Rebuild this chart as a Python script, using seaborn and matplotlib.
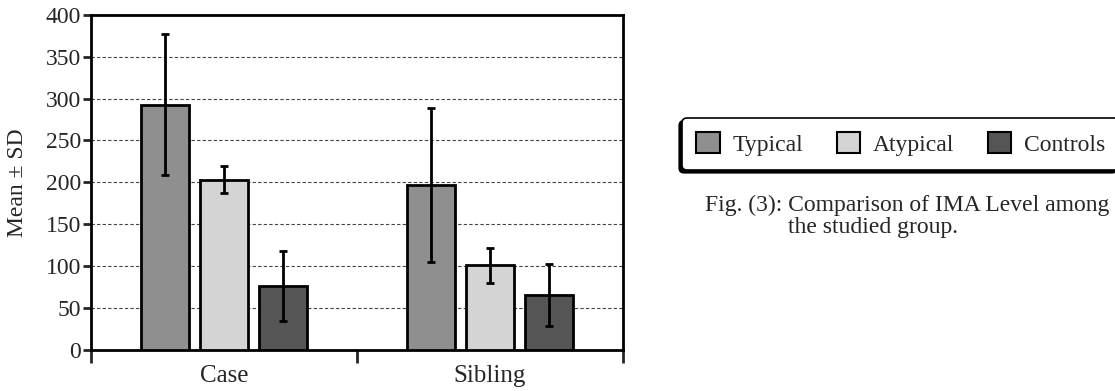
import pandas as pd
import matplotlib.pyplot as plt
import seaborn as sns

# IMA level, mean and SD per group
categories = ['Case', 'Sibling']
groups = ['Typical', 'Atypical', 'Controls']
means = {'Typical': [293, 197], 'Atypical': [203, 101], 'Controls': [76, 65]}
sds = {'Typical': [84, 92], 'Atypical': [16, 21], 'Controls': [42, 37]}
colors = ['#8f8f8f', '#d4d4d4', '#555555']

rows = []
for g in groups:
    for i, c in enumerate(categories):
        rows.append({'Category': c, 'Group': g, 'Mean': means[g][i], 'SD': sds[g][i]})
df = pd.DataFrame(rows)

sns.set_style('white')
plt.rcParams['font.family'] = ['Liberation Serif', 'DejaVu Serif']

fig = plt.figure(figsize=(11.15, 3.91), dpi=100)
ax = fig.add_axes([0.0816, 0.106, 0.4771, 0.8556])

sns.barplot(data=df, x='Category', y='Mean', hue='Group', order=categories,
            hue_order=groups, palette=colors, width=0.665, gap=0.19,
            edgecolor='black', linewidth=2, errorbar=None, ax=ax, zorder=3)

# SD error bars at the bar centres
for g, cont in zip(groups, ax.containers):
    xs = [p.get_x() + p.get_width() / 2 for p in cont.patches]
    ax.errorbar(xs, means[g], yerr=sds[g], fmt='none', ecolor='black',
                elinewidth=2, capsize=3, capthick=2, zorder=4)

ax.set_ylim(0, 400)
ax.set_xlim(-0.5, 1.5)
ax.set_yticks(range(0, 401, 50))
ax.set_xticks([-0.5, 0.5, 1.5])
ax.set_xticklabels([])
ax.set_xticks([0, 1], minor=True)
ax.set_xticklabels(categories, minor=True)
ax.tick_params(axis='x', which='minor', length=0, pad=11, labelsize=18)
ax.tick_params(axis='x', which='major', length=9, width=2, direction='out', bottom=True)
ax.tick_params(axis='y', length=6, width=2, direction='out', left=True, labelsize=17, pad=1)
for y in range(50, 400, 50):
    ax.axhline(y, color='#444444', ls=(0, (3, 2)), lw=0.8, zorder=1)
for s in ax.spines.values():
    s.set_linewidth(2)
    s.set_color('black')
ax.set_xlabel('')
ax.set_ylabel('Mean ± SD', fontsize=17)
ax.yaxis.set_label_coords(-0.118, 0.5)
ax.get_legend().remove()

handles = [plt.Rectangle((0, 0), 1, 1, facecolor=c, edgecolor='black', linewidth=1.5)
           for c in colors]
leg = fig.legend(handles, groups, ncol=3, loc='upper left',
                 bbox_to_anchor=(682 / 1115, 1 - 118 / 391), fontsize=17,
                 frameon=True, fancybox=True, handlelength=1.0, handleheight=1.0,
                 handletextpad=0.55, columnspacing=1.4, borderpad=0.6,
                 borderaxespad=0,
                 shadow={'ox': -2, 'oy': -2, 'color': 'black', 'alpha': 1})
leg.get_frame().set_edgecolor('black')
leg.get_frame().set_linewidth(1.2)
leg.get_frame().set_alpha(1)

fig.text(907 / 1115, 1 - 205 / 391, 'Fig. (3): Comparison of IMA Level among',
         ha='center', va='center', fontsize=17)
fig.text(788 / 1115, 1 - 227 / 391, 'the studied group.',
         ha='left', va='center', fontsize=17)

fig.savefig('out.png', dpi=100)
